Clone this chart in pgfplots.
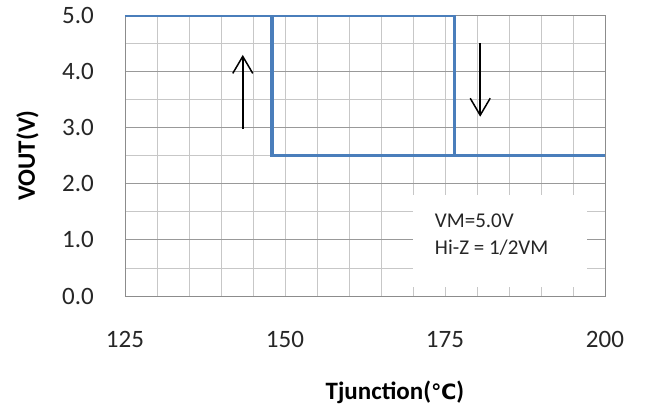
\documentclass[border=0pt]{standalone}
\usepackage{pgfplots}
\pgfplotsset{compat=1.18}
\usepackage{fontspec}
\setmainfont{Carlito}
\newfontfamily\dejavu{DejaVu Sans}
\usetikzlibrary{arrows.meta}
\definecolor{lineblue}{HTML}{4A7EBB}
\begin{document}
\begin{tikzpicture}
\useasboundingbox (-125bp,-111bp) rectangle (520bp,296bp);
\begin{axis}[
  scale only axis,
  width=480bp, height=281bp,
  xmin=125, xmax=200, ymin=0, ymax=5,
  xtick={125,150,175,200},
  xticklabels={125,150,175,200},
  minor xtick={130,135,140,145,155,160,165,170,180,185,190,195},
  ytick={0,1,2,3,4,5},
  yticklabels={0.0,1.0,2.0,3.0,4.0,5.0},
  minor ytick={0.5,1.5,2.5,3.5,4.5},
  major tick length=0pt, minor tick length=0pt,
  grid=both,
  major x grid style={draw=black!22, line width=0.8bp},
  minor x grid style={draw=black!22, line width=0.8bp},
  major y grid style={draw=black!40, line width=0.8bp},
  minor y grid style={draw=black!22, line width=0.8bp},
  axis line style={draw=black!45, line width=0.9bp},
  tick label style={font=\fontsize{25bp}{30bp}\selectfont, text=black!85},
  xticklabel style={anchor=base, inner sep=0pt, yshift=-51bp},
  yticklabel style={anchor=east, inner sep=0pt, xshift=-31bp},
  xlabel={\textbf{Tjunction({\dejavu\fontsize{21bp}{25bp}\selectfont ℃})}},
  ylabel={\textbf{VOUT(V)}},
  label style={font=\fontsize{25bp}{30bp}\selectfont},
  xlabel style={at={(axis description cs:0.5625,-0.368)}, anchor=base},
  ylabel style={at={(axis description cs:-0.203,0.5)}, anchor=center, rotate=0},
]
\fill[white] (axis cs:170,0.16) rectangle (axis cs:197.2,1.8);
\addplot[lineblue, line width=3.5bp, line join=miter] coordinates {(125,5) (176.5,5) (176.5,2.5) (200,2.5)};
\addplot[lineblue, line width=3.5bp, line join=miter] coordinates {(148,5) (148,2.5) (176.5,2.5)};
\draw[black, line width=1.5bp, -{Straight Barb[length=17bp, width=20bp, line width=1.5bp]}] (axis cs:143.4,2.97) -- (axis cs:143.4,4.29);
\draw[black, line width=1.5bp, -{Straight Barb[length=17bp, width=20bp, line width=1.5bp]}] (axis cs:180.5,4.5) -- (axis cs:180.5,3.19);
\node[anchor=base west, inner sep=0pt, font=\fontsize{21bp}{25bp}\selectfont, text=black!85] at (axis cs:173.4,1.21) {VM=5.0V};
\node[anchor=base west, inner sep=0pt, font=\fontsize{21bp}{25bp}\selectfont, text=black!85] at (axis cs:173.4,0.747) {Hi-Z = 1/2VM};
\end{axis}
\end{tikzpicture}
\end{document}
